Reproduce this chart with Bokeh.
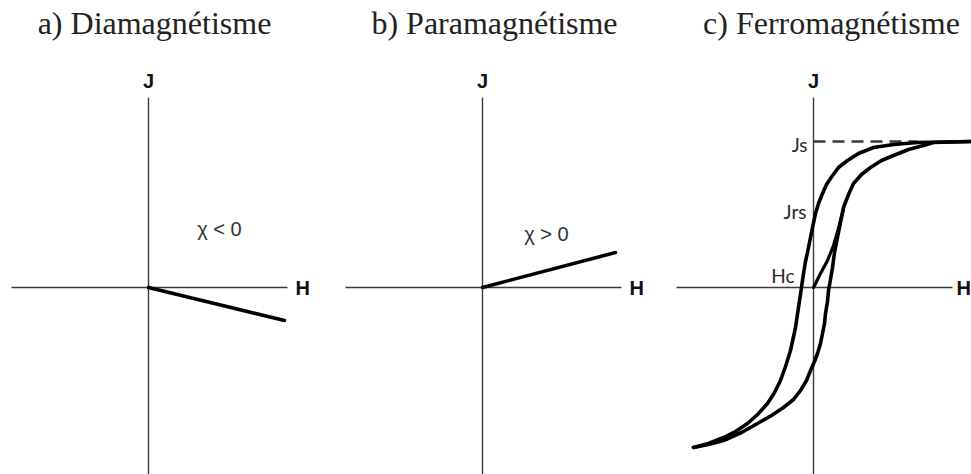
from bokeh.plotting import figure
from bokeh.layouts import row
from bokeh.models import Range1d
from bokeh.core.properties import value
from bokeh.embed import file_html
from bokeh.resources import INLINE

# ---- data (arbitrary units: H horizontal, J vertical) ----
titles = ["a) Diamagnétisme", "b) Paramagnétisme", "c) Ferromagnétisme"]
chi_labels = ["χ < 0", "χ > 0"]

dia_H = [0, 136]
dia_J = [0, -33]
para_H = [0, 133]
para_J = [0, 35]

# hysteresis: descending branch (from positive saturation to negative tip)
desc_H = [158, 104, 80, 60, 45, 34, 25, 19, 13, 9, 5, 2, -1, -3, -5, -8, -10, -12, -15, -18, -23, -28, -33, -39, -46, -56, -66, -78, -90, -105, -120]
desc_J = [146, 145, 143, 140, 134, 127, 120, 112, 103, 94, 84, 74, 60, 50, 40, 26, 14, 0, -20, -40, -63, -79, -93, -105, -116, -127, -136, -144, -150, -156, -160]
# ascending branch (from negative tip to positive saturation)
asc_H = [-120, -105, -90, -72, -56, -42, -30, -20, -13, -7, -3, 1, 4, 7, 9, 11, 12, 14, 15, 17, 19, 21, 24, 27, 30, 35, 40, 48, 57, 68, 80, 95, 110, 120, 158]
asc_J = [-160, -157, -153, -145, -136, -128, -120, -112, -103, -93, -83, -74, -66, -56, -46, -36, -26, -14, -3, 8, 20, 35, 50, 65, 80, 93, 104, 113, 120, 127, 132, 138, 142, 145, 146]
# first magnetization curve
init_H = [0, 7, 14, 20, 25, 30]
init_J = [0, 14, 27, 42, 59, 79]

Js = 146
Js_end = 104
Jrs = 62
Hc = -12

AX_COL = "#3a3a3a"
TXT_COL = "#222222"

# figure geometry (pixel-like units so 1 unit = 1 px)
widths = [330, 320, 321]
x_ranges = [(-148, 182), (-152, 168), (-163, 158)]
H = 474
y_range = (-187, 287)
title_dx = [6, 12, 18]
h_label_x = [147, 147, 143]


def base(i):
    p = figure(width=widths[i], height=H, output_backend="svg", toolbar_location=None,
               x_range=Range1d(*x_ranges[i]), y_range=Range1d(*y_range),
               min_border=0, outline_line_color=None)
    p.xaxis.visible = False
    p.yaxis.visible = False
    p.grid.visible = False
    p.background_fill_color = "white"
    p.border_fill_color = "white"
    # axes
    p.line([-137, 139], [0, 0], line_color=AX_COL, line_width=1.4)
    p.line([0, 0], [190, -200], line_color=AX_COL, line_width=1.4)
    # title
    p.text([title_dx[i]], [265], text=[titles[i]], text_font=value("Liberation Serif"),
           text_font_size="32px", text_align="center", text_baseline="middle", text_color=TXT_COL)
    # axis names
    p.text([0], [207], text=["J"], text_font=value("Liberation Sans"), text_font_style="bold",
           text_font_size="20px", text_align="center", text_baseline="middle", text_color="#111111")
    p.text([h_label_x[i]], [0], text=["H"], text_font=value("Liberation Sans"), text_font_style="bold",
           text_font_size="20px", text_align="left", text_baseline="middle", text_color="#111111")
    return p


pa = base(0)
pa.line(dia_H, dia_J, line_color="black", line_width=3.5, line_cap="round")
pa.text([71], [59], text=[chi_labels[0]], text_font=value("Liberation Sans"), text_font_size="20px",
        text_align="center", text_baseline="middle", text_color="#333333")

pb = base(1)
pb.line(para_H, para_J, line_color="black", line_width=3.5, line_cap="round")
pb.text([64], [54], text=[chi_labels[1]], text_font=value("Liberation Sans"), text_font_size="20px",
        text_align="center", text_baseline="middle", text_color="#333333")

pc = base(2)
pc.line([0, Js_end], [Js, Js], line_color=AX_COL, line_width=2.5, line_dash="12 7")
pc.line(desc_H, desc_J, line_color="black", line_width=3.6, line_cap="round", line_join="round")
pc.line(asc_H, asc_J, line_color="black", line_width=3.6, line_cap="round", line_join="round")
pc.line(init_H, init_J, line_color="black", line_width=3.2, line_cap="round", line_join="round")
# label positions (offset from the points they mark)
pc.text([-6, -7, -19], [Js - 3, Jrs + 14, 12],
        text=["Js", "Jrs", "Hc"], text_font=value("Lato"), text_font_size="19px",
        text_align="right", text_baseline="middle", text_color="#2a2a2a")

layout = row(pa, pb, pc, spacing=0)

open("out.html", "w").write(file_html(layout, INLINE))
